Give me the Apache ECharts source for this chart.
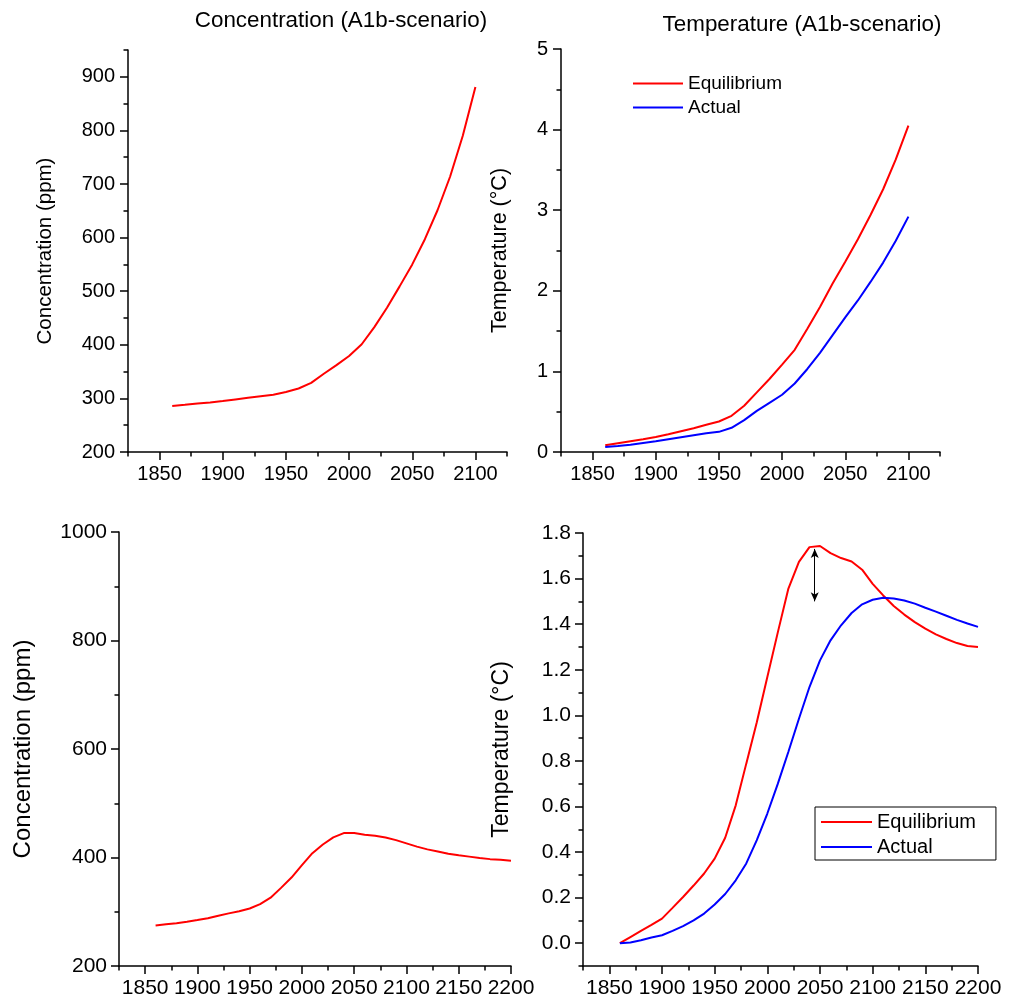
<!DOCTYPE html>
<html>
<head>
<meta charset="utf-8">
<script src="https://cdn.jsdelivr.net/npm/echarts@6/dist/echarts.min.js"></script>
<style>
  html, body { margin: 0; padding: 0; background: #fff; }
  #chart { width: 1015px; height: 1000px; }
</style>
</head>
<body>
<div id="chart"></div>
<script>
  // A1b scenario, 1860-2100
  const yearsA1b = [1860, 1870, 1880, 1890, 1900, 1910, 1920, 1930, 1940, 1950, 1960, 1970, 1980,
    1990, 2000, 2010, 2020, 2030, 2040, 2050, 2060, 2070, 2080, 2090, 2100]
  const concA1b = [285.6, 288, 290.5, 292.5, 295, 298, 301, 304, 307, 312, 318.5, 329, 346,
    362, 379, 401, 433, 469, 509, 550, 597, 651, 714, 790, 881]
  const tempEqA1b = [0.083, 0.108, 0.133, 0.158, 0.187, 0.22, 0.258, 0.295, 0.337, 0.378, 0.449, 0.574, 0.74,
    0.906, 1.085, 1.268, 1.53, 1.8, 2.09, 2.36, 2.64, 2.94, 3.26, 3.63, 4.05]
  const tempActA1b = [0.062, 0.075, 0.091, 0.112, 0.133, 0.158, 0.183, 0.208, 0.233, 0.25, 0.30, 0.395, 0.51,
    0.61, 0.71, 0.85, 1.03, 1.23, 1.45, 1.67, 1.88, 2.11, 2.35, 2.62, 2.92]

  // stabilisation run, 1860-2200
  const yearsStab = [1860, 1870, 1880, 1890, 1900, 1910, 1920, 1930, 1940, 1950, 1960, 1970, 1980,
    1990, 2000, 2010, 2020, 2030, 2040, 2050, 2060, 2070, 2080, 2090, 2100, 2110, 2120, 2130, 2140,
    2150, 2160, 2170, 2180, 2190, 2200]
  const concStab = [274.7, 277, 279, 281.5, 284.6, 288, 292.5, 297, 301, 306, 314, 326, 344,
    363, 386, 408, 424, 437, 445, 445, 442, 440, 437, 432, 426, 420, 415, 411, 407,
    404, 401.6, 399, 397, 396, 394]
  const tempEqStab = [0, 0.027, 0.054, 0.08, 0.108, 0.155, 0.203, 0.253, 0.306, 0.371, 0.463, 0.605, 0.788,
    0.97, 1.168, 1.365, 1.556, 1.673, 1.738, 1.743, 1.712, 1.69, 1.675, 1.639, 1.577, 1.526, 1.48, 1.442, 1.409,
    1.38, 1.355, 1.335, 1.317, 1.304, 1.3]
  const tempActStab = [0, 0.003, 0.013, 0.025, 0.035, 0.054, 0.075, 0.10, 0.13, 0.17, 0.216, 0.276, 0.35,
    0.452, 0.569, 0.70, 0.84, 0.985, 1.124, 1.241, 1.329, 1.395, 1.449, 1.487, 1.507, 1.516, 1.513, 1.504, 1.49,
    1.472, 1.455, 1.437, 1.419, 1.403, 1.388]

  // tick labels
  const yearTicksA1b = [1850, 1900, 1950, 2000, 2050, 2100]
  const yearTicksStab = [1850, 1900, 1950, 2000, 2050, 2100, 2150, 2200]
  const concTicksA1b = [200, 300, 400, 500, 600, 700, 800, 900]
  const tempTicksA1b = [0, 1, 2, 3, 4, 5]
  const concTicksStab = [200, 400, 600, 800, 1000]
  const tempTicksStab = [0, 0.2, 0.4, 0.6, 0.8, 1.0, 1.2, 1.4, 1.6, 1.8]

  const FONT = "'Liberation Sans', Arial, sans-serif"
  const BLACK = '#000'

  // main axis (labels + long ticks) and a bare axis for the short ticks
  function axes(dim, g, min, max, majors, step, o) {
    const pos = dim === 'x' ? 'bottom' : 'left'
    const main = {
      type: 'value', gridIndex: g, min: min, max: max, position: pos, offset: 0,
      axisLine: { show: true, onZero: false, lineStyle: { color: BLACK, width: 1.5 } },
      axisTick: { show: true, customValues: majors, length: 8, lineStyle: { color: BLACK, width: 1.5 } },
      axisLabel: {
        customValues: majors, color: BLACK, fontSize: o.fontSize, fontFamily: FONT, margin: o.margin,
        formatter: o.fmt || (v => String(v))
      },
      splitLine: { show: false }
    }
    if (o.name) {
      main.name = o.name
      main.nameLocation = 'middle'
      main.nameGap = o.nameGap
      main.nameTextStyle = { color: BLACK, fontSize: o.nameSize, fontFamily: FONT }
    }
    const minor = {
      type: 'value', gridIndex: g, min: min, max: max, interval: step, position: pos, offset: 0,
      axisLine: { show: false, onZero: false },
      axisTick: { show: true, length: 4.5, lineStyle: { color: BLACK, width: 1.5 } },
      axisLabel: { show: false },
      splitLine: { show: false }
    }
    return [main, minor]
  }

  const chart = echarts.init(document.getElementById('chart'))

  const xAxis = [].concat(
    axes('x', 0, 1825, 2125, yearTicksA1b, 25, { fontSize: 20, margin: 12 }),
    axes('x', 1, 1825, 2125, yearTicksA1b, 25, { fontSize: 20, margin: 12 }),
    axes('x', 2, 1825, 2200, yearTicksStab, 25, { fontSize: 21, margin: 12 }),
    axes('x', 3, 1825, 2200, yearTicksStab, 25, { fontSize: 21, margin: 12 })
  )
  const yAxis = [].concat(
    axes('y', 0, 200, 950, concTicksA1b, 50, { fontSize: 20, margin: 13, name: 'Concentration (ppm)', nameGap: 72, nameSize: 20.5 }),
    axes('y', 1, 0, 5, tempTicksA1b, 0.5, { fontSize: 20, margin: 13, name: 'Temperature (°C)', nameGap: 50, nameSize: 21.5 }),
    axes('y', 2, 200, 1000, concTicksStab, 100, { fontSize: 21, margin: 12, name: 'Concentration (ppm)', nameGap: 84, nameSize: 24 }),
    axes('y', 3, -0.1, 1.8, tempTicksStab, 0.1, { fontSize: 21, margin: 12, name: 'Temperature (°C)', nameGap: 70, nameSize: 23, fmt: v => v.toFixed(1) })
  )

  function line(name, color, g, xs, ys, extra) {
    return Object.assign({
      name: name,
      type: 'line',
      xAxisIndex: g * 2,
      yAxisIndex: g * 2,
      data: xs.map((x, i) => [x, ys[i]]),
      symbol: 'none',
      lineStyle: { color: color, width: 2 },
      itemStyle: { color: color },
      clip: false
    }, extra || {})
  }

  chart.setOption({
    animation: false,
    backgroundColor: '#fff',
    title: [
      { text: 'Concentration (A1b-scenario)', left: 341, top: 10, textAlign: 'center', padding: 0,
        textStyle: { fontSize: 22.4, fontWeight: 'normal', color: BLACK, fontFamily: FONT } },
      { text: 'Temperature (A1b-scenario)', left: 802, top: 14, textAlign: 'center', padding: 0,
        textStyle: { fontSize: 22.4, fontWeight: 'normal', color: BLACK, fontFamily: FONT } }
    ],
    legend: [
      { data: ['Equilibrium', 'Actual'], orient: 'vertical', left: 633, top: 74, padding: 0,
        icon: 'rect', itemWidth: 50, itemHeight: 2, itemGap: 5,
        textStyle: { fontSize: 19, lineHeight: 18, color: BLACK, fontFamily: FONT } },
      { data: ['Equilibrium', 'Actual'], orient: 'vertical', left: 815, top: 807,
        padding: [5, 20, 3, 6], icon: 'rect', itemWidth: 51, itemHeight: 2, itemGap: 5,
        borderColor: BLACK, borderWidth: 1,
        textStyle: { fontSize: 20, lineHeight: 19, color: BLACK, fontFamily: FONT } }
    ],
    grid: [
      { left: 128, top: 50, width: 379, height: 402, outerBoundsMode: 'none' },
      { left: 561, top: 49, width: 379, height: 403, outerBoundsMode: 'none' },
      { left: 119, top: 532, width: 392, height: 434, outerBoundsMode: 'none' },
      { left: 583, top: 533, width: 395, height: 433, outerBoundsMode: 'none' }
    ],
    xAxis: xAxis,
    yAxis: yAxis,
    series: [
      line('Concentration', '#ff0000', 0, yearsA1b, concA1b),
      line('Equilibrium', '#ff0000', 1, yearsA1b, tempEqA1b),
      line('Actual', '#0000ff', 1, yearsA1b, tempActA1b),
      line('Concentration', '#ff0000', 2, yearsStab, concStab),
      line('Equilibrium', '#ff0000', 3, yearsStab, tempEqStab, {
        markLine: {
          silent: true,
          symbol: ['arrow', 'arrow'],
          symbolSize: [6, 9],
          lineStyle: { color: BLACK, width: 1, type: 'solid' },
          label: { show: false },
          data: [[{ coord: [2045, 1.73] }, { coord: [2045, 1.5] }]]
        }
      }),
      line('Actual', '#0000ff', 3, yearsStab, tempActStab)
    ]
  })
</script>
</body>
</html>
